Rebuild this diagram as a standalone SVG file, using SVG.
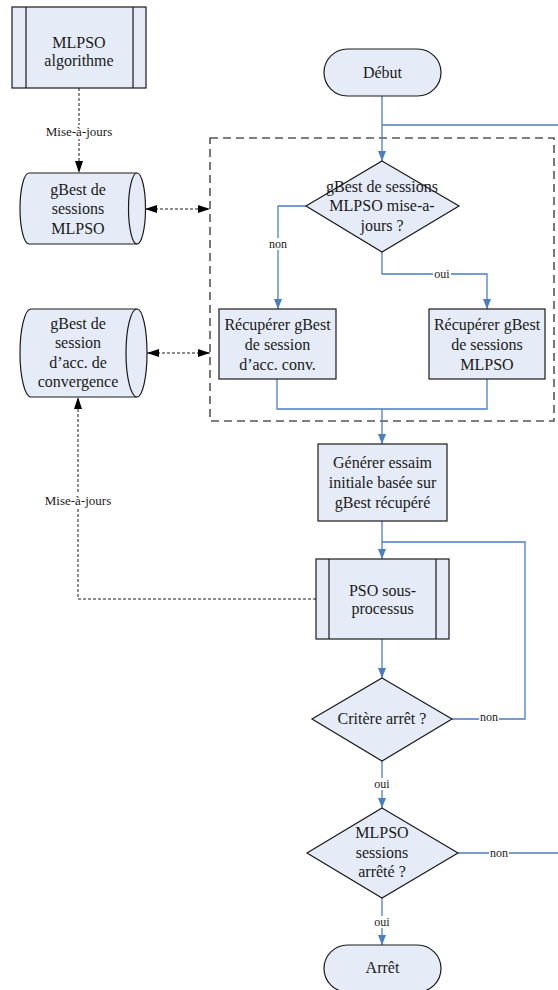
<svg xmlns="http://www.w3.org/2000/svg" width="558" height="990" viewBox="0 0 558 990">
<defs>
<style>
.shape{fill:#E6ECF7;stroke:#1a1a1a;stroke-width:1.2}
.t{font-family:"Liberation Serif","Times New Roman",serif;font-size:16px;fill:#1a1a1a;text-anchor:middle}
.lb{font-family:"Liberation Serif","Times New Roman",serif;font-size:12px;fill:#1a1a1a;text-anchor:middle}
.lm{font-family:"Liberation Serif","Times New Roman",serif;font-size:13px;fill:#1a1a1a;text-anchor:middle}
.blue{fill:none;stroke:#4A7EC2;stroke-width:1.3}
.dash{fill:none;stroke:#1a1a1a;stroke-width:1;stroke-dasharray:3,2}
.frame{fill:none;stroke:#555;stroke-width:1.6;stroke-dasharray:8,5}
</style>
<marker id="ab" markerUnits="userSpaceOnUse" markerWidth="10" markerHeight="10" viewBox="0 0 10 10" refX="10" refY="5" orient="auto">
<path d="M0,1 L10,5 L0,9 Z" fill="#4A7EC2"/>
</marker>
<marker id="ak" markerUnits="userSpaceOnUse" markerWidth="12" markerHeight="10" viewBox="0 0 12 10" refX="12" refY="5" orient="auto">
<path d="M0,1 L12,5 L0,9 Z" fill="#000"/>
</marker>
<marker id="aks" markerUnits="userSpaceOnUse" markerWidth="12" markerHeight="10" viewBox="0 0 12 10" refX="0" refY="5" orient="auto">
<path d="M12,1 L0,5 L12,9 Z" fill="#000"/>
</marker>
</defs>
<rect width="558" height="990" fill="#fff"/>

<rect class="frame" x="210" y="138" width="344" height="283"/>

<g id="connectors">
<path class="blue" d="M382,96 V161" marker-end="url(#ab)"/>
<path class="blue" d="M558,125 H382"/>
<path class="blue" d="M306,206 H278 V309" marker-end="url(#ab)"/>
<path class="blue" d="M382,252 V274 H487 V309" marker-end="url(#ab)"/>
<path class="blue" d="M277,379 V409 H487 V379"/>
<path class="blue" d="M382,409 V444" marker-end="url(#ab)"/>
<path class="blue" d="M382,521 V559" marker-end="url(#ab)"/>
<path class="blue" d="M452,719 H525 V542 H382"/>
<path class="blue" d="M382,639 V678" marker-end="url(#ab)"/>
<path class="blue" d="M382,761 V808" marker-end="url(#ab)"/>
<path class="blue" d="M458,853 H558"/>
<path class="blue" d="M382,898 V945" marker-end="url(#ab)"/>
<path class="dash" d="M79,88 V173" marker-end="url(#ak)"/>
<path class="dash" d="M145,209 H210" marker-start="url(#aks)" marker-end="url(#ak)"/>
<path class="dash" d="M147,353 H210" marker-start="url(#aks)" marker-end="url(#ak)"/>
<path class="dash" d="M316,599 H78 V397" marker-end="url(#ak)"/>
<rect x="42" y="125" width="74" height="14" fill="#fff"/>
<text class="lm" x="79" y="136">Mise-à-jours</text>
<rect x="41" y="494" width="74" height="14" fill="#fff"/>
<text class="lm" x="78" y="505">Mise-à-jours</text>
<rect x="268" y="238" width="20" height="12" fill="#fff"/>
<text class="lb" x="278" y="248">non</text>
<rect x="433" y="268" width="18" height="12" fill="#fff"/>
<text class="lb" x="442" y="278">oui</text>
<rect x="479" y="711" width="20" height="12" fill="#fff"/>
<text class="lb" x="489" y="721">non</text>
<rect x="373" y="778" width="18" height="12" fill="#fff"/>
<text class="lb" x="382" y="788">oui</text>
<rect x="489" y="847" width="20" height="12" fill="#fff"/>
<text class="lb" x="499" y="857">non</text>
<rect x="373" y="916" width="18" height="12" fill="#fff"/>
<text class="lb" x="382" y="926">oui</text>
</g>

<g id="mlpso-algo">
<rect class="shape" x="12" y="7" width="134" height="81"/>
<line x1="26" y1="7" x2="26" y2="88" stroke="#1a1a1a" stroke-width="1.2"/>
<line x1="133" y1="7" x2="133" y2="88" stroke="#1a1a1a" stroke-width="1.2"/>
<text class="t" x="79" y="48">MLPSO</text>
<text class="t" x="79" y="66">algorithme</text>
</g>

<g id="cyl-mlpso">
<path class="shape" d="M29,173 H137 A8.5,35.5 0 0 1 137,244 H29 A9,35.5 0 0 1 29,173 Z"/>
<path class="shape" d="M137,173 A8.5,35.5 0 0 0 137,244" fill="none"/>
<text class="t" x="78" y="195">gBest de</text>
<text class="t" x="78" y="214">sessions</text>
<text class="t" x="78" y="234">MLPSO</text>
</g>

<g id="cyl-acc">
<path class="shape" d="M31,309 H137 A10,44 0 0 1 137,397 H31 A11,44 0 0 1 31,309 Z"/>
<path class="shape" d="M137,309 A11,44 0 0 0 137,397" fill="none"/>
<text class="t" x="78" y="329">gBest de</text>
<text class="t" x="78" y="348">session</text>
<text class="t" x="78" y="368">d’acc. de</text>
<text class="t" x="78" y="387">convergence</text>
</g>

<g id="debut">
<rect class="shape" x="324" y="49" width="117" height="47" rx="23.5"/>
<text class="t" x="382.5" y="78">Début</text>
</g>

<g id="dec-maj">
<path class="shape" d="M382,161 L459,206 L382,252 L306,206 Z"/>
<text class="t" x="382" y="192">gBest de sessions</text>
<text class="t" x="382" y="211">MLPSO mise-a-</text>
<text class="t" x="382" y="231">jours ?</text>
</g>

<g id="recup-acc">
<rect class="shape" x="219" y="309" width="117" height="70"/>
<text class="t" x="277.5" y="330">Récupérer gBest</text>
<text class="t" x="277.5" y="350">de session</text>
<text class="t" x="277.5" y="370">d’acc. conv.</text>
</g>

<g id="recup-mlpso">
<rect class="shape" x="429" y="309" width="116" height="70"/>
<text class="t" x="487" y="330">Récupérer gBest</text>
<text class="t" x="487" y="350">de sessions</text>
<text class="t" x="487" y="370">MLPSO</text>
</g>

<g id="generer">
<rect class="shape" x="318" y="444" width="129" height="77"/>
<text class="t" x="382.5" y="468">Générer essaim</text>
<text class="t" x="382.5" y="488">initiale basée sur</text>
<text class="t" x="382.5" y="508">gBest récupéré</text>
</g>

<g id="pso">
<rect class="shape" x="316" y="559" width="133" height="80"/>
<line x1="329" y1="559" x2="329" y2="639" stroke="#1a1a1a" stroke-width="1.2"/>
<line x1="436" y1="559" x2="436" y2="639" stroke="#1a1a1a" stroke-width="1.2"/>
<text class="t" x="382.5" y="596">PSO sous-</text>
<text class="t" x="382.5" y="614">processus</text>
</g>

<g id="critere">
<path class="shape" d="M382,678 L452,719 L382,761 L312,719 Z"/>
<text class="t" x="382" y="724">Critère arrêt ?</text>
</g>

<g id="sessions-arrete">
<path class="shape" d="M382,808 L458,853 L382,898 L307,853 Z"/>
<text class="t" x="382" y="838">MLPSO</text>
<text class="t" x="382" y="858">sessions</text>
<text class="t" x="382" y="877">arrêté ?</text>
</g>

<g id="arret">
<rect class="shape" x="324" y="945" width="117" height="47" rx="23.5"/>
<text class="t" x="382.5" y="973">Arrêt</text>
</g>
</svg>
